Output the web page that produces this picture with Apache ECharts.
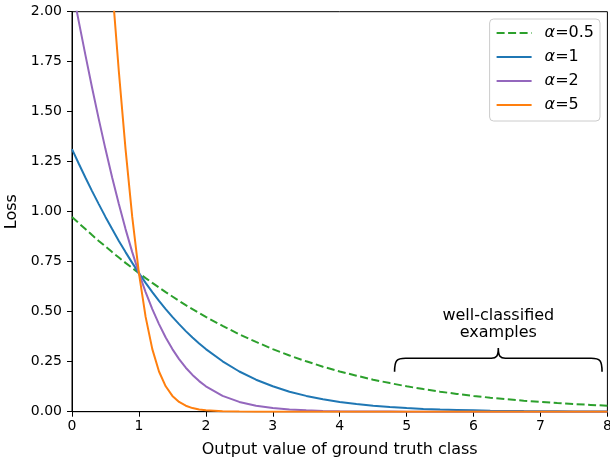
<!DOCTYPE html>
<html>
<head>
<meta charset="utf-8">
<script src="https://cdn.jsdelivr.net/npm/echarts@6/dist/echarts.min.js"></script>
<style>
  html, body { margin: 0; padding: 0; background: #fff; }
  #plot1 { width: 610px; height: 461px; }
</style>
</head>
<body>
<div id="plot1"></div>
<script>
// sample positions along x (output value of ground truth class)
const xs = [0, 0.1, 0.2, 0.3, 0.4, 0.5, 0.6, 0.7, 0.8, 0.9, 1, 1.1, 1.2, 1.3, 1.4, 1.5, 1.6, 1.7, 1.8, 1.9, 2,
  2.25, 2.5, 2.75, 3, 3.25, 3.5, 3.75, 4, 4.25, 4.5, 4.75, 5, 5.25, 5.5, 5.75, 6, 6.25, 6.5, 6.75, 7, 7.25, 7.5, 7.75, 8];

// loss values
const loss05 = [0.974, 0.943, 0.913, 0.883, 0.854, 0.826, 0.798, 0.771, 0.744, 0.719, 0.693, 0.668, 0.644, 0.621, 0.598, 0.576, 0.554, 0.533, 0.513, 0.493, 0.474,
  0.429, 0.387, 0.349, 0.313, 0.281, 0.252, 0.225, 0.201, 0.180, 0.160, 0.143, 0.127, 0.113, 0.100, 0.089, 0.079, 0.070, 0.062, 0.055, 0.049, 0.043, 0.038, 0.034, 0.030];
const loss1 = [1.313, 1.241, 1.171, 1.103, 1.038, 0.974, 0.913, 0.854, 0.798, 0.744, 0.693, 0.644, 0.598, 0.554, 0.513, 0.474, 0.438, 0.403, 0.371, 0.341, 0.313,
  0.252, 0.201, 0.160, 0.127, 0.100, 0.079, 0.062, 0.049, 0.038, 0.030, 0.023, 0.018, 0.014, 0.011, 0.009, 0.007, 0.005, 0.004, 0.003, 0.0025, 0.002, 0.0015, 0.0012, 0.0009];
const loss2 = [2.127, 1.953, 1.784, 1.620, 1.463, 1.313, 1.171, 1.038, 0.913, 0.798, 0.693, 0.598, 0.513, 0.438, 0.371, 0.313, 0.263, 0.220, 0.184, 0.153, 0.127,
  0.079, 0.049, 0.030, 0.018, 0.011, 0.007, 0.004, 0.0025, 0.0015, 0.0009, 0.0006, 0.0003, 0.0002, 0.0001, 0.0001, 0, 0, 0, 0, 0, 0, 0, 0, 0];
const loss5 = [5.007, 4.511, 4.018, 3.530, 3.049, 2.579, 2.127, 1.701, 1.313, 0.974, 0.693, 0.474, 0.313, 0.201, 0.127, 0.079, 0.049, 0.030, 0.018, 0.011, 0.007,
  0.002, 0.0006, 0.0002, 0, 0, 0, 0, 0, 0, 0, 0, 0, 0, 0, 0, 0, 0, 0, 0, 0, 0, 0, 0, 0];

const names = ['α=0.5', 'α=1', 'α=2', 'α=5'];
const colors = ['#2ca02c', '#1f77b4', '#9467bd', '#ff7f0e'];
const lossList = [loss05, loss1, loss2, loss5];

// brace annotation, in data units
const braceLeft = 4.82, braceRight = 7.92, braceMid = 6.37;
const braceEnd = 0.2, braceBar = 0.267, braceTip = 0.318;
const noteText = 'well-classified\nexamples';
const noteY = 0.437;

const font = 'DejaVu Sans';

function pairs(ys) {
  return xs.map(function (x, i) { return [x, ys[i]]; });
}

const seriesList = lossList.map(function (ys, i) {
  return {
    type: 'line',
    name: names[i],
    data: pairs(ys),
    showSymbol: false,
    symbol: 'none',
    color: colors[i],
    lineStyle: { width: 2, type: i === 0 ? [8, 3.5] : 'solid', color: colors[i] },
    clip: true,
    animation: false
  };
});

seriesList.push({
  type: 'custom',
  name: 'note',
  silent: true,
  animation: false,
  data: [[braceMid, braceTip]],
  renderItem: function (params, api) {
    const l = api.coord([braceLeft, braceEnd]);
    const r = api.coord([braceRight, braceEnd]);
    const bar = api.coord([braceMid, braceBar]);
    const tip = api.coord([braceMid, braceTip]);
    const t = api.coord([braceMid, noteY]);
    const yb = bar[1], r0 = 11;
    const d = 'M' + l[0] + ',' + l[1] +
      ' C' + l[0] + ',' + (yb + 2) + ' ' + (l[0] + 2) + ',' + yb + ' ' + (l[0] + r0) + ',' + yb +
      ' L' + (tip[0] - r0 + 4) + ',' + yb +
      ' C' + (tip[0] - 2) + ',' + yb + ' ' + tip[0] + ',' + (yb - 2) + ' ' + tip[0] + ',' + tip[1] +
      ' C' + tip[0] + ',' + (yb - 2) + ' ' + (tip[0] + 2) + ',' + yb + ' ' + (tip[0] + r0 - 4) + ',' + yb +
      ' L' + (r[0] - r0) + ',' + yb +
      ' C' + (r[0] - 2) + ',' + yb + ' ' + r[0] + ',' + (yb + 2) + ' ' + r[0] + ',' + r[1];
    return {
      type: 'group',
      children: [
        {
          type: 'path',
          shape: { pathData: d },
          style: { fill: null, stroke: '#000', lineWidth: 1.6 }
        },
        {
          type: 'text',
          x: t[0],
          y: t[1],
          style: {
            text: noteText,
            fill: '#000',
            font: '16px "' + font + '"',
            align: 'center',
            verticalAlign: 'middle',
            lineHeight: 17
          }
        }
      ]
    };
  }
});

const option = {
  animation: false,
  backgroundColor: '#fff',
  textStyle: { fontFamily: font },
  grid: {
    left: 72,
    right: 2.6,
    top: 11.7,
    bottom: 49.3,
    show: true,
    borderColor: '#000',
    borderWidth: 1,
    containLabel: false,
    outerBoundsMode: 'none'
  },
  legend: {
    data: names,
    orient: 'vertical',
    right: 10,
    top: 19,
    padding: [6, 6, 8, 6],
    itemGap: 8,
    itemWidth: 35,
    itemHeight: 14,
    backgroundColor: 'rgba(255,255,255,0.8)',
    borderColor: '#cccccc',
    borderWidth: 1,
    borderRadius: 4,
    itemStyle: { opacity: 0 },
    formatter: function (name) {
      return '{i|α}' + name.slice(1);
    },
    textStyle: {
      fontFamily: font,
      fontSize: 16,
      lineHeight: 16,
      color: '#000',
      padding: [0, 0, 0, 8],
      rich: {
        i: { fontFamily: font, fontStyle: 'italic', fontSize: 16, lineHeight: 16, color: '#000' }
      }
    }
  },
  xAxis: {
    type: 'value',
    min: 0,
    max: 8,
    interval: 1,
    name: 'Output value of ground truth class',
    nameLocation: 'middle',
    nameGap: 30,
    nameTextStyle: { fontFamily: font, fontSize: 16, color: '#000' },
    axisLine: { show: true, onZero: false, lineStyle: { color: '#000', width: 1 } },
    axisTick: { show: true, inside: false, length: 5, lineStyle: { color: '#000' } },
    axisLabel: { fontFamily: font, fontSize: 14, color: '#000', margin: 8 },
    splitLine: { show: false }
  },
  yAxis: {
    type: 'value',
    min: 0,
    max: 2,
    interval: 0.25,
    name: 'Loss',
    nameLocation: 'middle',
    nameGap: 47,
    nameTextStyle: { fontFamily: font, fontSize: 16, color: '#000' },
    axisLine: { show: true, onZero: false, lineStyle: { color: '#000', width: 1 } },
    axisTick: { show: true, inside: false, length: 5, lineStyle: { color: '#000' } },
    axisLabel: {
      fontFamily: font, fontSize: 14, color: '#000', margin: 10,
      formatter: function (v) { return v.toFixed(2); }
    },
    splitLine: { show: false }
  },
  series: seriesList
};

const myChart = echarts.init(document.getElementById('plot1'), null, { renderer: 'canvas' });
myChart.setOption(option);
</script>
</body>
</html>
